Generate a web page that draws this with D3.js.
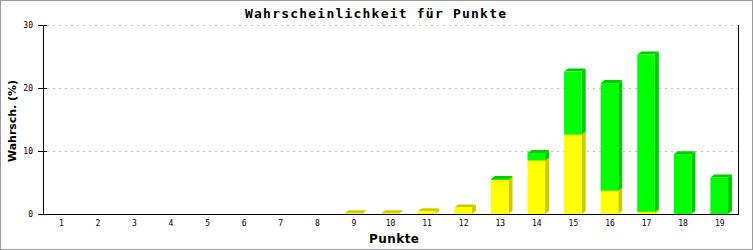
<!DOCTYPE html>
<html lang="de">
<head>
<meta charset="UTF-8">
<title>Wahrscheinlichkeit für Punkte</title>
<script src="https://d3js.org/d3.v7.min.js"></script>
<style>
  body { margin: 0; background: #fff; }
  svg { display: block; }
</style>
</head>
<body>
<div id="chart"></div>
<script>
// data (percent)
const punkte = ["1","2","3","4","5","6","7","8","9","10","11","12","13","14","15","16","17","18","19"];
const gelb   = [0, 0, 0, 0, 0, 0, 0, 0, 0.1, 0.1, 0.45, 1.05, 5.4, 8.5, 12.6, 3.7, 0.35, 0, 0];
const gruen  = [0, 0, 0, 0, 0, 0, 0, 0, 0, 0, 0, 0, 0.15, 1.2, 10.0, 17.1, 24.95, 9.5, 5.8];
const yTicks = [0, 10, 20, 30];

const width = 753, height = 250;
const plotLeft = 43, plotRight = 738, plotTop = 25, plotBottom = 214;
const depthX = 4, depthY = 3;

const svg = d3.select("#chart").append("svg")
    .attr("width", width)
    .attr("height", height);

svg.append("rect")
    .attr("x", 0.5).attr("y", 0.5)
    .attr("width", width - 1).attr("height", height - 1)
    .attr("fill", "#fff").attr("stroke", "#999");

const x = d3.scaleBand().domain(punkte).range([plotLeft, plotRight]).padding(0);
const y = d3.scaleLinear().domain([0, 30]).range([plotBottom, plotTop]);

// grid
svg.append("g").selectAll("line")
    .data(yTicks.filter(d => d > 0))
    .join("line")
    .attr("x1", plotLeft + 4).attr("x2", plotRight)
    .attr("y1", d => Math.round(y(d)) + 0.5).attr("y2", d => Math.round(y(d)) + 0.5)
    .attr("stroke", "#c0c0c0")
    .attr("stroke-dasharray", "2,4");

// stacked 3d bars
const rows = punkte.map((p, i) => ({ p: p, gelb: gelb[i], gruen: gruen[i] }));
const stack = d3.stack().keys(["gelb", "gruen"]);
const series = stack(rows);
const colors = { gelb: ["#ffff00", "#cccc00"], gruen: ["#00ff00", "#00cc00"] };
const barW = x.step() * 0.48;

const bars = svg.append("g");
series.forEach(s => {
    const [front, dark] = colors[s.key];
    s.forEach(d => {
        if (d[1] - d[0] <= 0) return;
        const x0 = x(d.data.p) + x.bandwidth() / 2 - barW / 2 - 0.5;
        const x1 = x0 + barW;
        const yt = y(d[1]), yb = y(d[0]);
        // top face
        bars.append("polygon")
            .attr("points", [[x0, yt], [x0 + depthX, yt - depthY], [x1 + depthX, yt - depthY], [x1, yt]].join(" "))
            .attr("fill", dark);
        // side face
        bars.append("polygon")
            .attr("points", [[x1, yt], [x1 + depthX, yt - depthY], [x1 + depthX, yb - depthY], [x1, yb]].join(" "))
            .attr("fill", dark);
        // front
        bars.append("rect")
            .attr("x", x0).attr("y", yt)
            .attr("width", barW).attr("height", Math.max(0, yb - yt))
            .attr("fill", front);
    });
});

// axes
svg.append("line")
    .attr("x1", plotLeft + 0.5).attr("x2", plotLeft + 0.5)
    .attr("y1", plotTop).attr("y2", plotBottom + 0.5)
    .attr("stroke", "#000");
svg.append("line")
    .attr("x1", plotRight + 0.5).attr("x2", plotRight + 0.5)
    .attr("y1", plotTop).attr("y2", plotBottom + 0.5)
    .attr("stroke", "#000");
svg.append("line")
    .attr("x1", plotLeft - 5).attr("x2", plotRight + 1)
    .attr("y1", plotBottom + 0.5).attr("y2", plotBottom + 0.5)
    .attr("stroke", "#000");

const yAxis = svg.append("g");
yAxis.selectAll("line")
    .data(yTicks)
    .join("line")
    .attr("x1", plotLeft - 5).attr("x2", d => d > 0 ? plotLeft + 4 : plotLeft)
    .attr("y1", d => Math.round(y(d)) + 0.5).attr("y2", d => Math.round(y(d)) + 0.5)
    .attr("stroke", "#000");
yAxis.selectAll("text")
    .data(yTicks)
    .join("text")
    .attr("x", plotLeft - 10)
    .attr("y", d => Math.round(y(d)) + 3)
    .attr("text-anchor", "end")
    .style("font", "8px 'DejaVu Sans Mono', monospace")
    .text(d => d);

svg.append("g").selectAll("text")
    .data(punkte)
    .join("text")
    .attr("x", d => x(d) + x.bandwidth() / 2)
    .attr("y", plotBottom + 12)
    .attr("text-anchor", "middle")
    .style("font", "8px 'DejaVu Sans Mono', monospace")
    .text(d => d);

// titles
svg.append("text")
    .attr("x", 375.5).attr("y", 18)
    .attr("text-anchor", "middle")
    .attr("textLength", 261).attr("lengthAdjust", "spacing")
    .style("font", "bold 13px 'DejaVu Sans Mono', monospace")
    .text("Wahrscheinlichkeit für Punkte");

svg.append("text")
    .attr("x", 394).attr("y", 243)
    .attr("text-anchor", "middle")
    .attr("textLength", 50).attr("lengthAdjust", "spacing")
    .style("font", "bold 12px 'DejaVu Sans', sans-serif")
    .text("Punkte");

svg.append("text")
    .attr("transform", "translate(16,121) rotate(-90)")
    .attr("text-anchor", "middle")
    .attr("textLength", 82).attr("lengthAdjust", "spacing")
    .style("font", "bold 11px 'DejaVu Sans', sans-serif")
    .text("Wahrsch. (%)");
</script>
</body>
</html>
